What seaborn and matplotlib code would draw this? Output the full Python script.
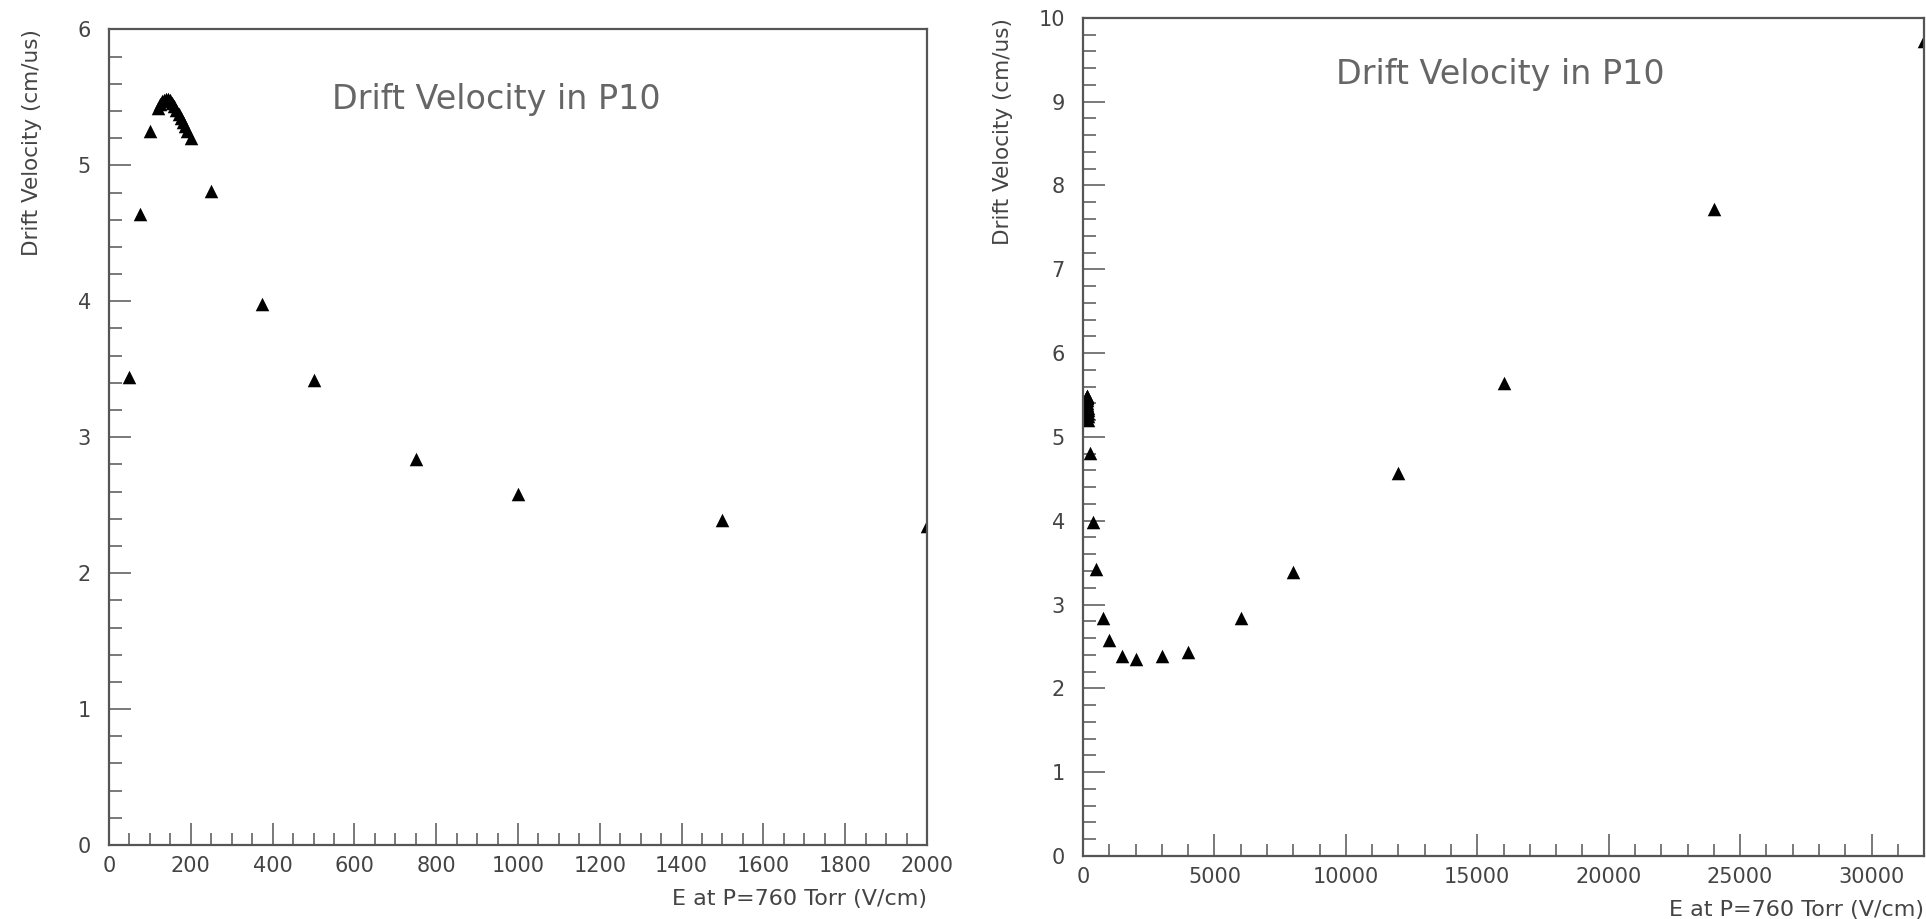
import matplotlib
matplotlib.use("Agg")
import matplotlib.pyplot as plt
from matplotlib.ticker import MultipleLocator
import seaborn as sns
import pandas as pd

# ---- data (E field in V/cm at 760 Torr, drift velocity in cm/us) ----
field_low = [50, 75, 100, 120, 125, 130, 135, 140, 145, 150, 155, 160, 165,
             170, 175, 180, 185, 190, 200, 250, 375, 500, 750, 1000, 1500, 2000]
vel_low = [3.44, 4.64, 5.25, 5.42, 5.45, 5.47, 5.48, 5.49, 5.49, 5.48, 5.46,
           5.44, 5.41, 5.38, 5.35, 5.32, 5.29, 5.25, 5.20, 4.81, 3.98, 3.42,
           2.84, 2.58, 2.39, 2.35]
field_high = [3000, 4000, 6000, 8000, 12000, 16000, 24000, 32000]
vel_high = [2.38, 2.43, 2.84, 3.39, 4.57, 5.64, 7.72, 9.72]

title_text = "Drift Velocity in P10"
xlabel_text = "E at P=760 Torr (V/cm)"
ylabel_text = "Drift Velocity (cm/us)"

df = pd.DataFrame({"E": field_low + field_high, "v": vel_low + vel_high})
df_left = df
df_right = df[df["E"] > 100]

sns.set_style("white")
plt.rcParams["font.family"] = ["DejaVu Sans"]

fig = plt.figure(figsize=(19.26, 9.19), dpi=100)
ax1 = fig.add_axes([0.0566, 0.0805, 0.4247, 0.8875])
ax2 = fig.add_axes([0.5623, 0.0686, 0.4367, 0.912])

spine_col = "#555555"
text_col = "#444444"

configs = [
    (ax1, df_left, (0, 2000), (0, 6), 200, 50, (0.474, 0.9136), -0.082),
    (ax2, df_right, (0, 32000), (0, 10), 5000, 1000, (0.496, 0.932), -0.083),
]

for ax, data, xl, yl, xmaj, xmin, tpos, ylx in configs:
    sns.scatterplot(data=data, x="E", y="v", ax=ax, marker="^", s=95,
                    color="black", linewidth=0, legend=False)
    ax.set_xlim(*xl)
    ax.set_ylim(*yl)
    ax.xaxis.set_major_locator(MultipleLocator(xmaj))
    ax.xaxis.set_minor_locator(MultipleLocator(xmin))
    ax.yaxis.set_major_locator(MultipleLocator(1))
    ax.yaxis.set_minor_locator(MultipleLocator(0.2))
    ax.tick_params(which="both", direction="in", color=spine_col,
                   bottom=True, left=True, top=False, right=False, width=1.1)
    ax.tick_params(which="major", length=16, labelsize=15,
                   labelcolor=text_col)
    ax.tick_params(axis="x", which="major", pad=8)
    ax.tick_params(axis="y", which="major", pad=13)
    ax.tick_params(which="minor", length=9)
    for sp in ax.spines.values():
        sp.set_color(spine_col)
        sp.set_linewidth(1.6)
    ax.set_xlabel(xlabel_text, loc="right", fontsize=16, color=text_col,
                  labelpad=9)
    ax.set_ylabel(ylabel_text, loc="top", fontsize=15.5, color=text_col)
    ax.yaxis.set_label_coords(ylx, 1.0)
    ax.text(tpos[0], tpos[1], title_text, transform=ax.transAxes,
            ha="center", va="center", fontsize=24, color="#666666")

fig.savefig("out.png", dpi=100, facecolor="white")
